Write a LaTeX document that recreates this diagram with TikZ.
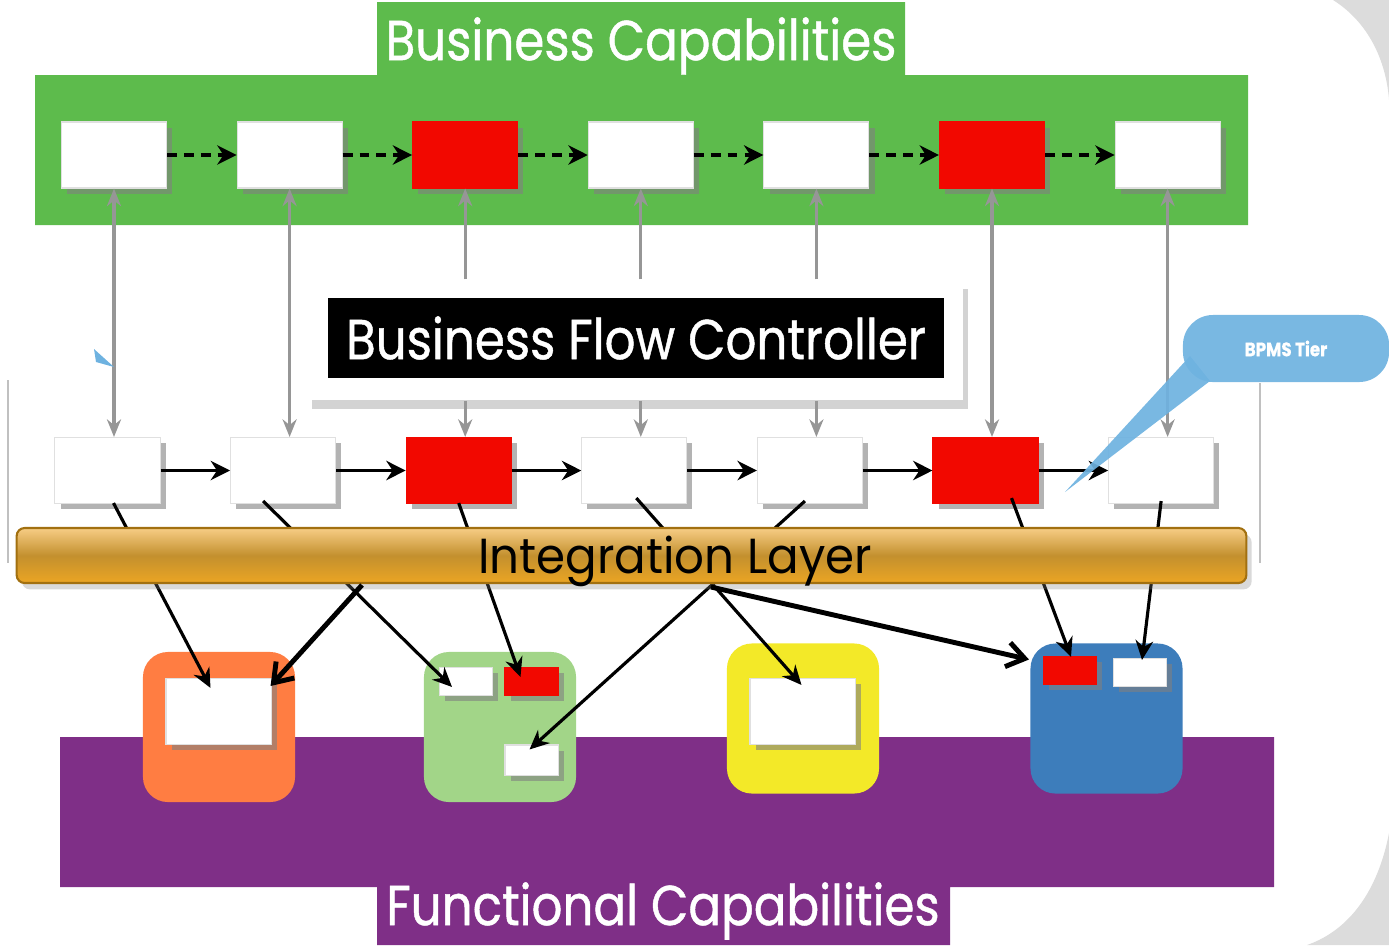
\documentclass[tikz,border=0pt]{standalone}
\usepackage{fontspec}
\newfontfamily\capfont[FakeStretch=0.86,FakeBold=0.8]{Poppins}
\newfontfamily\layerfont[FakeStretch=0.95]{Poppins}
\usetikzlibrary{arrows.meta,shadows,calc}
\definecolor{capgreen}{RGB}{93,187,76}
\definecolor{funpurple}{RGB}{127,47,135}
\definecolor{hotred}{RGB}{242,8,0}
\definecolor{unitorange}{RGB}{255,125,66}
\definecolor{unitgreen}{RGB}{162,213,136}
\definecolor{unityellow}{RGB}{243,233,40}
\definecolor{unitblue}{RGB}{61,125,187}
\definecolor{tiergray}{RGB}{150,150,150}
\definecolor{bubbleblue}{RGB}{110,178,224}
\definecolor{cornergray}{RGB}{220,220,220}
\newcommand{\Caption}[1]{{\capfont\fontsize{16pt}{18pt}\selectfont #1}}

\begin{document}
\begin{tikzpicture}[x=0.01cm,y=-0.01cm,
    cell/.style={fill=white, draw=black!12, line width=0.3pt, inner sep=0pt, minimum width=1.05cm, minimum height=0.66cm,
        drop shadow={shadow xshift=1.6pt, shadow yshift=-1.6pt, opacity=.6}},
    hotcell/.style={cell, fill=hotred, draw=hotred},
    minicell/.style={cell, minimum width=0.53cm, minimum height=0.28cm},
    hotmini/.style={minicell, fill=hotred, draw=hotred},
    unit/.style={rounded corners=0.25cm, inner sep=0pt, minimum width=1.52cm, minimum height=1.5cm},
    flowdash/.style={line width=1.2pt, dash pattern=on 2.8pt off 2pt, -{Stealth[length=5.5pt,width=5.5pt]}},
    flowline/.style={line width=1.1pt, -{Stealth[length=5.5pt,width=5.5pt]}},
    tierlink/.style={tiergray, line width=0.9pt},
    feed/.style={line width=0.9pt, -{Stealth[length=5.5pt,width=5pt]}},
    bigfeed/.style={line width=1.4pt, -{Straight Barb[length=5pt,width=7pt]}}]
\useasboundingbox (0,0) rectangle (1389,945);
% page corners
\fill[cornergray] (1333,0) .. controls (1368,22) and (1386,60) .. (1389,100) -- (1389,0) -- cycle;
\fill[cornergray] (1389,833) .. controls (1378,890) and (1350,930) .. (1307,945) -- (1389,945) -- cycle;

% the two capability bands
\fill[capgreen] (35,75) rectangle (1248,225) (377,2) rectangle (905,75);
\node[text=white] (bc) at (641,46) {\Caption{Business Capabilities}};
\fill[funpurple] (60,737) rectangle (1274,887) (377,887) rectangle (950,945);
\node[text=white] (fc) at (663,911) {\Caption{Functional Capabilities}};

% BPMS tier panel
\draw[tiergray!60, line width=0.6pt] (8,380) -- (8,563) (1260,383) -- (1260,563);
\node[fill=white, minimum width=6.56cm, minimum height=1.2cm,
    drop shadow={shadow xshift=1.5pt, shadow yshift=-2.5pt, opacity=.35}] (bfc) at (635,340) {};
\node[fill=black, text=white, inner sep=0pt, minimum width=6.16cm, minimum height=0.8cm] (bfct) at (636,338)
    {\Caption{Business Flow Controller}};

\foreach \i/\k in {1/cell,2/cell,3/hotcell,4/cell,5/cell,6/hotcell,7/cell}{
    \node[\k] (t\i) at ({114+175.6*(\i-1)},155) {};
    \node[\k] (m\i) at ({107.5+175.6*(\i-1)},470.5) {};
}
\foreach \i/\j in {1/2,2/3,3/4,4/5,5/6,6/7}{
    \draw[flowdash] (t\i) -- (t\j);
    \draw[flowline] (m\i) -- (m\j);
}
\foreach \i in {1,2,6,7}
    \draw[tierlink, {Stealth[length=5pt,width=4pt]}-{Stealth[length=5pt,width=4pt]}] (t\i.south) -- (t\i.south |- m\i.north);
\foreach \i in {3,4,5}{
    \draw[tierlink, -{Stealth[length=5pt,width=4pt]}] (t\i.south |- bfc.north) -- (t\i.south);
    \draw[tierlink, -{Stealth[length=5pt,width=4pt]}] (t\i.south |- bfc.south) -- (t\i.south |- m\i.north);
}

% functional units
\node[unit, fill=unitorange] (uo) at (219,727) {};
\node[unit, fill=unitgreen] (ug) at (500,727) {};
\node[unit, fill=unityellow] (uy) at (803,718.5) {};
\node[unit, fill=unitblue] (ub) at (1106.5,718.5) {};
\node[cell] (o1) at (218.5,711.5) {};
\node[cell] (y1) at (802.5,711.5) {};
\node[minicell] (g1) at (466,681.5) {};
\node[hotmini] (g2) at (531.5,681.5) {};
\node[minicell, minimum height=0.3cm] (g3) at (531.5,760) {};
\node[hotmini] (b1) at (1070,670.5) {};
\node[minicell] (b2) at (1140,672.5) {};

\draw[feed] ($(m1.south)+(6,-1)$) -- ($(o1.north)+(-8,10)$);
\draw[feed] ($(m2.south)+(-20,-3)$) -- ($(g1.north)+(-14,20)$);
\draw[feed] ($(m3.south)+(0,-1)$) -- ($(g2.north)+(-11,10)$);
\draw[feed] ($(m4.south)+(2,-6)$) -- ($(y1.north)+(-1,7)$);
\draw[feed] ($(m5.south)+(-5,-3)$) -- ($(g3.north)+(-2,5)$);
\draw[feed] ($(m6.south)+(26,-6)$) -- ($(b1.north)+(1,1)$);
\draw[feed] ($(m7.south)+(0,-3)$) -- ($(b2.north)+(2,2)$);

% integration layer
\node[rounded corners=0.08cm, draw={rgb,255:red,162;green,112;blue,16}, line width=0.6pt,
    top color={rgb,255:red,247;green,205;blue,133}, bottom color={rgb,255:red,235;green,165;blue,35},
    middle color={rgb,255:red,195;green,144;blue,46}, minimum width=12.29cm, minimum height=0.55cm,
    drop shadow={shadow xshift=1.5pt, shadow yshift=-1.8pt, opacity=.3}] (il) at (631.5,555.5) {};
\node (iltext) at (675,561) {\layerfont\fontsize{14pt}{16pt}\selectfont Integration Layer};
\coordinate (il1) at (362,585);
\coordinate (il2) at (711,587);
\draw[bigfeed] (il1) -- ($(o1.north east)+(-1,8)$);
\draw[bigfeed] (il2) -- ($(b1.west)+(-14,-11)$);

% callout
\fill[bubbleblue] (94,349) -- (96,362) -- (114,367) -- cycle;
\node[fill=bubbleblue, opacity=.92, text opacity=1, text=white, rounded corners=0.3cm,
    minimum width=2.06cm, minimum height=0.67cm] (bpms) at (1286,348.5)
    {\capfont\bfseries\fontsize{5.5pt}{6pt}\selectfont BPMS Tier};
\coordinate (tip) at (1065,492);
\fill[bubbleblue, opacity=.92] (1190,356) -- (tip) -- (1210,381) -- cycle;
\end{tikzpicture}
\end{document}
